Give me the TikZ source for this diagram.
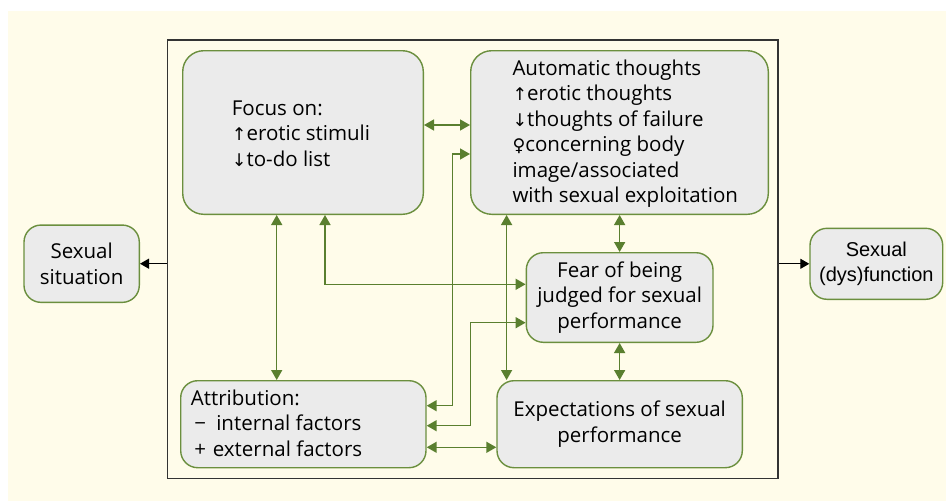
\documentclass[tikz,border=0pt]{standalone}
\usepackage{fontspec}
\setmainfont{Open Sans}
\newfontfamily\symf{DejaVu Sans}
\newfontfamily\arialf{Liberation Sans}
\usetikzlibrary{arrows.meta}
\definecolor{cream}{HTML}{FFFCEA}
\definecolor{boxfill}{HTML}{EBEBEB}
\definecolor{boxline}{HTML}{6B8F3E}
\definecolor{conn}{HTML}{5A7F2F}
\definecolor{frameline}{HTML}{333333}
\tikzset{
  box/.style={draw=boxline, fill=boxfill, line width=1.4pt, rounded corners=17pt, inner sep=0pt},
  bigbox/.style={box, rounded corners=21pt},
  txt/.style={font=\fontsize{20.5}{25.5}\selectfont},
  ltxt/.style={txt, align=left, inner sep=0pt, anchor=west},
  biarrow/.style={conn, line width=1.5pt, {Triangle[length=10pt,width=11pt]}-{Triangle[length=10pt,width=11pt]}},
  blackarrow/.style={black, line width=1.2pt, -{Triangle[length=9pt,width=10pt]}},
}
\newcommand{\up}{{\symf\fontsize{17.5}{25.5}\selectfont ↑}}
\newcommand{\dn}{{\symf\fontsize{17.5}{25.5}\selectfont ↓}}
\newcommand{\fem}{{\symf\fontsize{17.5}{25.5}\selectfont ♀}}
\begin{document}
\begin{tikzpicture}[x=1pt,y=-1pt]
\useasboundingbox (0,0) rectangle (946,501);
\fill[cream] (8,11) rectangle (946,501);
% outer frame
\node[draw=frameline, line width=1.5pt, minimum width=610.7pt, minimum height=438.3pt, inner sep=0pt] (frame) at (472.65,259.15) {};
% boxes
\node[bigbox, minimum width=240.6pt, minimum height=163.6pt] (focus) at (303,132.5) {};
\node[ltxt] (focustxt) at (231.7,133.5) {Focus on:\\\up erotic stimuli\\\dn to-do list};
\node[bigbox, minimum width=297.6pt, minimum height=163.6pt] (auto) at (619.5,132.5) {};
\node[ltxt] (autotxt) at (512.3,133.7)
  {Automatic thoughts\\\up erotic thoughts\\\dn thoughts of failure\\\fem concerning body\\image/associated\\with sexual exploitation};
\node[box, txt, align=center, minimum width=186.7pt, minimum height=89.6pt] (fear) at (619.65,297.5)
  {Fear of being\\judged for sexual\\performance};
\node[box, txt, align=center, minimum width=245.3pt, minimum height=87pt] (exp) at (619.65,424.2)
  {Expectations of sexual\\performance};
\node[box, minimum width=245.3pt, minimum height=87pt] (attr) at (303.35,424.2) {};
\node[ltxt] (attrtxt) at (190.7,422.9)
  {Attribution:\\\,−\enspace internal factors\\\,+\,\,external factors};
\node[box, txt, align=center, minimum width=115.3pt, minimum height=77.3pt] (sit) at (81.65,263.7)
  {Sexual\\situation};
\node[box, align=center, minimum width=132.7pt, minimum height=71pt, font=\arialf\fontsize{20}{25.7}\selectfont] (dys) at (876.35,263.8)
  {Sexual\\(dys)function};
% green connectors
\draw[biarrow] ([yshift=7.5pt]focus.east) -- ([yshift=7.5pt]auto.west);
\draw[biarrow] ([yshift=18.5pt]attr.east) -- ++(25.7,0) |- ([yshift=-21.5pt]auto.west);
\draw[biarrow] ([xshift=-26.3pt]focus.south) -- ([xshift=-26.3pt]focus.south |- attr.north);
\draw[biarrow] ([xshift=22pt]focus.south) |- ([yshift=13.2pt]fear.west);
\draw[biarrow] ([yshift=-1.5pt]attr.east) -- ++(44,0) |- ([yshift=-25.2pt]fear.west);
\draw[biarrow] ([yshift=-23.1pt]attr.east) -- ([yshift=-23.1pt]exp.west);
\draw[biarrow] ([xshift=-112.9pt]auto.south) -- ([xshift=-112.9pt]auto.south |- exp.north);
\draw[biarrow] (fear.north |- auto.south) -- (fear.north);
\draw[biarrow] (fear.south) -- (exp.north);
% black connectors
\draw[blackarrow] (frame.west |- sit.east) -- (sit.east);
\draw[blackarrow] (frame.east |- dys.west) -- (dys.west);
\end{tikzpicture}
\end{document}
